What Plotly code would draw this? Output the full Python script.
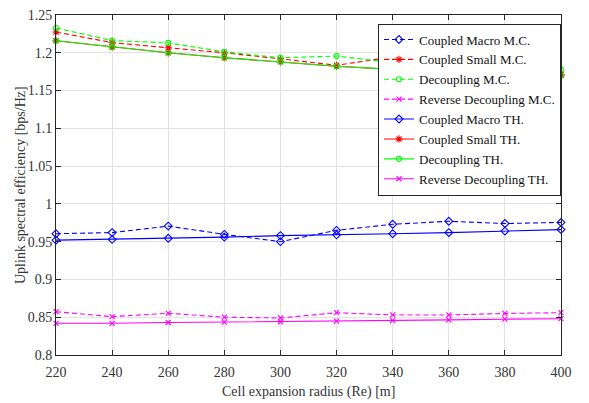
import plotly.graph_objects as go

radius = [220, 240, 260, 280, 300, 320, 340, 360, 380, 400]

coupled_macro_mc = [0.9605, 0.962, 0.9706, 0.9597, 0.9500, 0.965, 0.973, 0.977, 0.974, 0.9755]
coupled_small_mc = [1.2275, 1.2135, 1.2066, 1.2000, 1.1920, 1.1835, 1.1944, 1.1800, 1.1760, 1.1716]
decoupling_mc = [1.2328, 1.2161, 1.2131, 1.2013, 1.1934, 1.1956, 1.1870, 1.1830, 1.1800, 1.1780]
reverse_mc = [0.8573, 0.8508, 0.8552, 0.8500, 0.8490, 0.8560, 0.8530, 0.8530, 0.8550, 0.8560]

coupled_macro_th = [0.952, 0.953, 0.9545, 0.956, 0.958, 0.959, 0.9605, 0.962, 0.964, 0.966]
coupled_small_th = [1.2160, 1.2075, 1.2000, 1.1934, 1.1880, 1.1822, 1.1780, 1.1750, 1.1720, 1.1700]
decoupling_th = [1.2160, 1.2075, 1.2000, 1.1934, 1.1880, 1.1822, 1.1780, 1.1750, 1.1720, 1.1700]
reverse_th = [0.842, 0.842, 0.843, 0.8435, 0.844, 0.8447, 0.8456, 0.8465, 0.8474, 0.848]

y_ticks = [0.8, 0.85, 0.9, 0.95, 1.0, 1.05, 1.1, 1.15, 1.2, 1.25]
y_tick_labels = ["0.8", "0.85", "0.9", "0.95", "1", "1.05", "1.1", "1.15", "1.2", "1.25"]
x_ticks = radius
x_tick_labels = [str(v) for v in radius]

x_title = "Cell expansion radius (Re) [m]"
y_title = "Uplink spectral efficiency [bps/Hz]"

series = [
    ("Coupled Macro M.C.", coupled_macro_mc, "#0000ff", "dash", "diamond-open", 6),
    ("Coupled Small M.C.", coupled_small_mc, "#ff0000", "dash", "asterisk-open", 6),
    ("Decoupling M.C.", decoupling_mc, "#00ff00", "dash", "circle-open", 5),
    ("Reverse Decoupling M.C.", reverse_mc, "#ff00ff", "dash", "x-thin-open", 5),
    ("Coupled Macro TH.", coupled_macro_th, "#0000ff", "solid", "diamond-open", 6),
    ("Coupled Small TH.", coupled_small_th, "#ff0000", "solid", "asterisk-open", 6),
    ("Decoupling TH.", decoupling_th, "#00ff00", "solid", "circle-open", 5),
    ("Reverse Decoupling TH.", reverse_th, "#ff00ff", "solid", "x-thin-open", 5),
]

fig = go.Figure()
for name, vals, color, dash, sym, size in series:
    fig.add_trace(go.Scatter(
        x=radius, y=vals, name=name, mode="lines+markers",
        line=dict(color=color, width=1.1, dash="5px,3px" if dash == "dash" else "solid"),
        marker=dict(symbol=sym, size=size, color=color, line=dict(color=color, width=1.1)),
        cliponaxis=False,
    ))

font_family = "Liberation Serif"
axis_common = dict(
    showgrid=True, gridcolor="#e3e3e3", gridwidth=1,
    showline=True, linecolor="#262626", linewidth=1, mirror="ticks",
    ticks="inside", ticklen=5, tickcolor="#262626",
    zeroline=False, automargin=False, ticklabeloverflow="allow",
    tickfont=dict(family=font_family, size=14, color="#333333"),
)

fig.update_layout(
    width=573, height=403,
    margin=dict(l=48, r=20, t=7, b=56),
    paper_bgcolor="white", plot_bgcolor="white",
    font=dict(family=font_family, color="#262626"),
    xaxis=dict(range=[220, 400], tickvals=x_ticks, ticktext=x_tick_labels,
               ticklabelstandoff=4, **axis_common),
    yaxis=dict(range=[0.8, 1.25], tickvals=y_ticks, ticktext=y_tick_labels,
               **axis_common),
    legend=dict(
        x=1.0, y=0.975, xanchor="right", yanchor="top",
        bgcolor="white", bordercolor="#262626", borderwidth=1,
        font=dict(family=font_family, size=13, color="#111111"),
        itemwidth=30, tracegroupgap=0,
    ),
    showlegend=True,
    annotations=[
        dict(text=x_title, xref="paper", yref="paper", x=0.5, y=0,
             xanchor="center", yanchor="middle", yshift=-37, showarrow=False,
             font=dict(family=font_family, size=14, color="#333333")),
        dict(text=y_title, xref="paper", yref="paper", x=0, y=0.5,
             xanchor="center", yanchor="middle", xshift=-36, textangle=-90,
             showarrow=False, font=dict(family=font_family, size=14, color="#333333")),
    ],
)

fig.write_html("out.html")
